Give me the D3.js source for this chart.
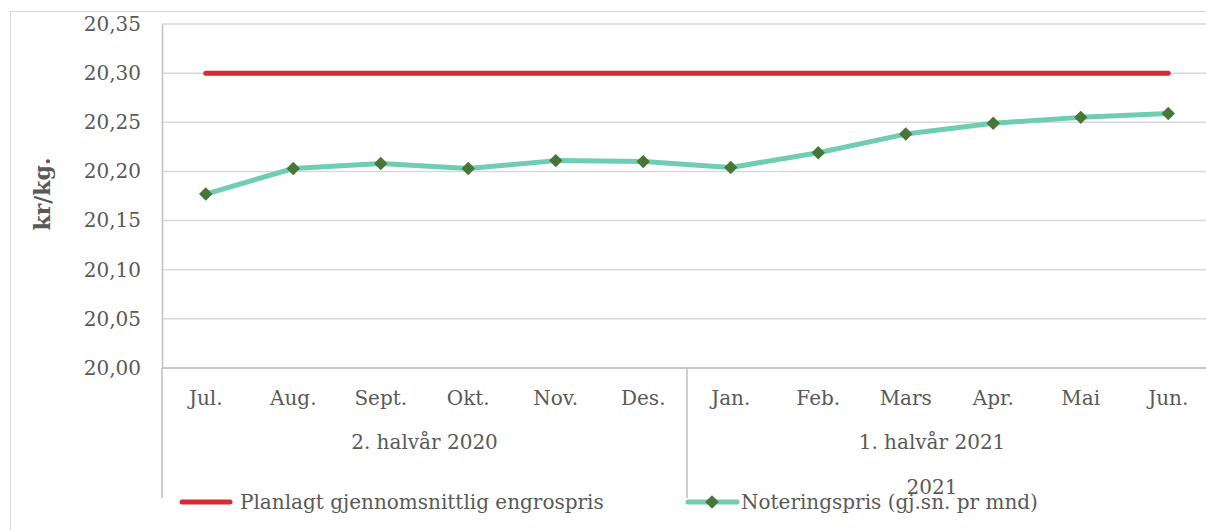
<!DOCTYPE html>
<html>
<head>
<meta charset="utf-8">
<script src="https://cdn.jsdelivr.net/npm/d3@7"></script>
<style>
  body { margin: 0; background: #fff; overflow: hidden; }
  svg { display: block; }
  text { font-family: "DejaVu Serif", Georgia, serif; fill: #595959; }
</style>
</head>
<body>
<script>
// data
var months = ["Jul.", "Aug.", "Sept.", "Okt.", "Nov.", "Des.", "Jan.", "Feb.", "Mars", "Apr.", "Mai", "Jun."];
var halves = ["2. halvår 2020", "1. halvår 2021"];
var planned = [20.30, 20.30, 20.30, 20.30, 20.30, 20.30, 20.30, 20.30, 20.30, 20.30, 20.30, 20.30];
var quoted = [20.177, 20.203, 20.208, 20.203, 20.211, 20.210, 20.204, 20.219, 20.238, 20.249, 20.255, 20.259];
var yTicks = [20.00, 20.05, 20.10, 20.15, 20.20, 20.25, 20.30, 20.35];
var seriesNames = ["Planlagt gjennomsnittlig engrospris", "Noteringspris (gj.sn. pr mnd)"];

// plot area (the chart runs a bit past the right edge of the window)
var margin = {top: 24, left: 162},
    width = 1212 - margin.left,
    height = 368 - margin.top;

var svg = d3.select("body")
    .append("svg")
    .attr("width", 1206)
    .attr("height", 530);

// outer chart border
svg.append("rect")
    .attr("x", 10.5).attr("y", 11.5)
    .attr("width", 1300).attr("height", 600)
    .attr("fill", "none")
    .attr("stroke", "#d9d9d9");

var g = svg.append("g")
    .attr("transform", "translate(" + margin.left + "," + margin.top + ")");

var x = d3.scaleBand().domain(months).range([0, width]);
var y = d3.scaleLinear().domain([20.00, 20.35]).range([height, 0]);

var fmt = function(d) { return d3.format(".2f")(d).replace(".", ","); };

// gridlines
g.selectAll(".grid")
    .data(yTicks)
    .enter()
    .append("line")
    .attr("x1", 0).attr("x2", width)
    .attr("y1", function(d) { return y(d); })
    .attr("y2", function(d) { return y(d); })
    .attr("stroke", "#d9d9d9")
    .attr("stroke-width", 1.5);

// y axis
var yAxis = g.append("g")
    .call(d3.axisLeft(y).tickValues(yTicks).tickFormat(fmt).tickSize(0).tickPadding(21));
yAxis.select(".domain").attr("stroke", "#bfbfbf").attr("stroke-width", 1.5);
yAxis.selectAll("text")
    .style("font-size", "20px")
    .attr("fill", "#595959");

// x axis line
g.append("line")
    .attr("x1", 0).attr("x2", width)
    .attr("y1", height).attr("y2", height)
    .attr("stroke", "#bfbfbf")
    .attr("stroke-width", 1.5);

// month labels
g.selectAll(".month")
    .data(months)
    .enter()
    .append("text")
    .attr("x", function(d) { return x(d) + x.bandwidth() / 2; })
    .attr("y", height + 37)
    .attr("text-anchor", "middle")
    .style("font-size", "20px")
    .text(function(d) { return d; });

// group dividers
[0, 6].forEach(function(i) {
    g.append("line")
        .attr("x1", x(months[i])).attr("x2", x(months[i]))
        .attr("y1", height).attr("y2", height + 130)
        .attr("stroke", "#bfbfbf")
        .attr("stroke-width", 1.5);
});

// half-year labels
g.append("text")
    .attr("x", (x(months[0]) + x(months[6])) / 2)
    .attr("y", height + 81)
    .attr("text-anchor", "middle")
    .style("font-size", "20px")
    .text(halves[0]);
g.append("text")
    .attr("x", 932 - margin.left)
    .attr("y", height + 81)
    .attr("text-anchor", "middle")
    .style("font-size", "20px")
    .text(halves[1]);
g.append("text")
    .attr("x", 932 - margin.left)
    .attr("y", height + 126)
    .attr("text-anchor", "middle")
    .style("font-size", "20px")
    .text("2021");

// y axis title
svg.append("text")
    .attr("transform", "translate(50,194) rotate(-90)")
    .attr("text-anchor", "middle")
    .style("font-size", "22px")
    .style("font-weight", "bold")
    .text("kr/kg.");

var line = d3.line()
    .x(function(d, i) { return x(months[i]) + x.bandwidth() / 2; })
    .y(function(d) { return y(d); });

// planned price line
g.append("path")
    .datum(planned)
    .attr("d", line)
    .attr("fill", "none")
    .attr("stroke", "#d62a36")
    .attr("stroke-width", 5)
    .attr("stroke-linecap", "round");

// quoted price line
g.append("path")
    .datum(quoted)
    .attr("d", line)
    .attr("fill", "none")
    .attr("stroke", "#6fceb1")
    .attr("stroke-width", 5)
    .attr("stroke-linejoin", "round");

var diamond = d3.symbol().type(d3.symbolSquare).size(90);

g.selectAll(".dot")
    .data(quoted)
    .enter()
    .append("path")
    .attr("d", diamond)
    .attr("transform", function(d, i) {
        return "translate(" + (x(months[i]) + x.bandwidth() / 2) + "," + y(d) + ") rotate(45)";
    })
    .attr("fill", "#477638");

// legend
var legend = svg.append("g");
legend.append("line")
    .attr("x1", 182).attr("x2", 230)
    .attr("y1", 502).attr("y2", 502)
    .attr("stroke", "#d62a36")
    .attr("stroke-width", 5)
    .attr("stroke-linecap", "round");
legend.append("text")
    .attr("x", 240).attr("y", 509)
    .style("font-size", "20px")
    .text(seriesNames[0]);

legend.append("line")
    .attr("x1", 688).attr("x2", 737)
    .attr("y1", 502).attr("y2", 502)
    .attr("stroke", "#6fceb1")
    .attr("stroke-width", 5)
    .attr("stroke-linecap", "round");
legend.append("path")
    .attr("d", diamond)
    .attr("transform", "translate(712,502) rotate(45)")
    .attr("fill", "#477638");
legend.append("text")
    .attr("x", 741).attr("y", 509)
    .style("font-size", "20px")
    .text(seriesNames[1]);
</script>
</body>
</html>
